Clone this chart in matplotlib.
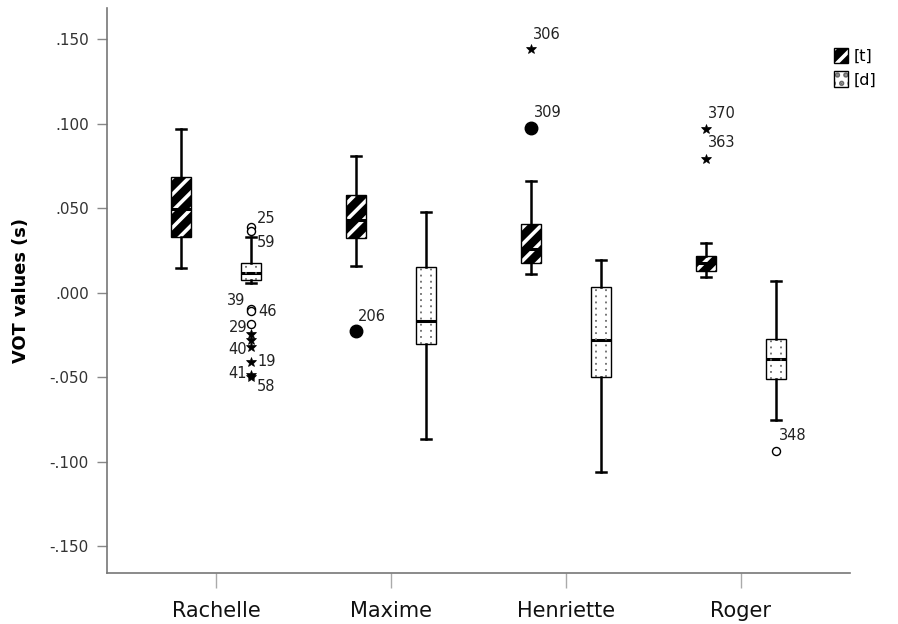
import matplotlib

matplotlib.use("Agg")
import matplotlib.pyplot as plt
import numpy as np
from matplotlib.patches import Patch, PathPatch
from matplotlib.ticker import FuncFormatter
from matplotlib.legend_handler import HandlerTuple

# --- data ---
speakers = ["Rachelle", "Maxime", "Henriette", "Roger"]

# [t] boxes
t_whislo = [0.0148, 0.0160, 0.0112, 0.0095]
t_q1 = [0.0331, 0.0326, 0.0178, 0.0130]
t_med = [0.0497, 0.0432, 0.0260, 0.0180]
t_q3 = [0.0687, 0.0580, 0.0408, 0.0219]
t_whishi = [0.0970, 0.0810, 0.0663, 0.0296]

# [d] boxes
d_whislo = [0.0060, -0.0865, -0.1060, -0.0750]
d_q1 = [0.0077, -0.0300, -0.0497, -0.0510]
d_med = [0.0118, -0.0166, -0.0278, -0.0390]
d_q3 = [0.0178, 0.0154, 0.0036, -0.0272]
d_whishi = [0.0330, 0.0480, 0.0195, 0.0071]

# outliers: speaker index, group, value, kind, case label
out_speaker = [1, 2, 2, 3, 3,
               0, 0, 0, 0, 0, 0, 0, 0, 0, 0, 0, 3]
out_group = ["t", "t", "t", "t", "t",
             "d", "d", "d", "d", "d", "d", "d", "d", "d", "d", "d", "d"]
out_value = [-0.0225, 0.1444, 0.0976, 0.0970, 0.0793,
             0.0391, 0.0367, -0.0095, -0.0107, -0.0183, -0.0243, -0.0278,
             -0.0320, -0.0408, -0.0485, -0.0497, -0.0935]
out_kind = ["filled", "star", "filled", "star", "star",
            "open", "open", "open", "open", "open", "star", "star",
            "star", "star", "star", "star", "open"]
out_label = ["206", "306", "309", "370", "363",
             "25", "59", "39", "46", "29", "", "",
             "40", "19", "41", "58", "348"]

# label placement (pixels right / up from the point, alignment)
label_offsets = [(2, 14, "left"), (2, 14, "left"), (3, 15, "left"), (2, 16, "left"), (2, 16, "left"),
                 (6, 8, "left"), (6, -12, "left"), (-6, 9, "right"), (7, 0, "left"), (-4, -4, "right"),
                 (0, 0, "left"), (0, 0, "left"),
                 (-4, -2, "right"), (6, 0, "left"), (-4, 1, "right"), (6, -10, "left"), (3, 15, "left")]

plt.rcParams["hatch.linewidth"] = 2.6

fig = plt.figure(figsize=(8.98, 6.24), dpi=100)
ax = fig.add_axes([107 / 898, 51 / 624, 743 / 898, 565 / 624])

centers = np.arange(len(speakers))
offset = 0.2
box_w = 0.11
pos_t = centers - offset
pos_d = centers + offset


def make_stats(lo, q1, med, q3, hi):
    return [dict(whislo=a, q1=b, med=c, q3=d, whishi=e, fliers=[])
            for a, b, c, d, e in zip(lo, q1, med, q3, hi)]


common = dict(widths=box_w, patch_artist=True, showfliers=False,
              whiskerprops=dict(color="black", linewidth=1.8),
              capprops=dict(color="black", linewidth=1.8),
              medianprops=dict(color="black", linewidth=2.2))

bt = ax.bxp(make_stats(t_whislo, t_q1, t_med, t_q3, t_whishi), positions=pos_t, **common)
bd = ax.bxp(make_stats(d_whislo, d_q1, d_med, d_q3, d_whishi), positions=pos_d, **common)

# [t]: black with white diagonal stripes
for box in bt["boxes"]:
    box.set(facecolor="black", edgecolor="white", hatch="//", linewidth=0)
    ax.add_patch(PathPatch(box.get_path(), facecolor="none", edgecolor="black",
                           linewidth=1.0, zorder=box.get_zorder() + 0.1))

# [d]: white with two dotted columns
for i, box in enumerate(bd["boxes"]):
    box.set(facecolor="white", edgecolor="black", linewidth=1.0)
    xs = [pos_d[i] - box_w / 4, pos_d[i] + box_w / 4]
    ax.vlines(xs, d_q1[i], d_q3[i], colors="#6a6a6a", linestyles=(0, (1, 2.4)),
              linewidth=1.3, zorder=box.get_zorder() + 0.1)

marker_style = {
    "open": dict(marker="o", markersize=5.8, markerfacecolor="white", markeredgecolor="black", markeredgewidth=1),
    "filled": dict(marker="o", markersize=9, markerfacecolor="black", markeredgecolor="black"),
    "star": dict(marker="*", markersize=7, markerfacecolor="black", markeredgecolor="black", markeredgewidth=0.5),
}

for s, g, v, k, lab, (dx, dy, ha) in zip(out_speaker, out_group, out_value, out_kind,
                                          out_label, label_offsets):
    x = pos_t[s] if g == "t" else pos_d[s]
    ax.plot([x], [v], linestyle="none", zorder=5, **marker_style[k])
    if lab:
        ax.annotate(lab, (x, v), xytext=(dx * 0.72, dy * 0.72), textcoords="offset points",
                    ha=ha, va="center", fontsize=10.5, color="#222222")

ax.set_xlim(-0.623, 3.623)
ax.set_ylim(-0.1657, 0.1686)

yticks = [-0.15, -0.10, -0.05, 0.0, 0.05, 0.10, 0.15]
ax.set_yticks(yticks)


def fmt(v, _):
    if abs(v) < 1e-9:
        return ".000"
    s = f"{v:.3f}"
    return s.replace("0.", ".", 1)


ax.yaxis.set_major_formatter(FuncFormatter(fmt))
ax.set_xticks(centers)
ax.set_xticklabels(speakers, fontsize=15, color="#111111")
ax.tick_params(axis="y", length=7, width=1, color="#888888", labelsize=11,
               labelcolor="#333333", pad=6)
ax.tick_params(axis="x", length=11, width=1, color="#aaaaaa", pad=9)

for side in ["top", "right"]:
    ax.spines[side].set_visible(False)
for side in ["left", "bottom"]:
    ax.spines[side].set_color("#777777")
    ax.spines[side].set_linewidth(1.2)

ax.set_ylabel("VOT values (s)", fontsize=12.8, fontweight="bold", labelpad=14)

# legend
h_t = (Patch(facecolor="black", edgecolor="white", hatch="//", linewidth=0),
       Patch(facecolor="none", edgecolor="black", linewidth=1))
h_d = (Patch(facecolor="white", edgecolor="#6a6a6a", hatch="..", linewidth=0),
       Patch(facecolor="none", edgecolor="black", linewidth=1))
fig.legend([h_t, h_d], ["[t]", "[d]"], handler_map={tuple: HandlerTuple(ndivide=1)},
           loc="upper left", bbox_to_anchor=(834 / 898, 1 - 48 / 624), frameon=False,
           handlelength=0.9, handleheight=1.1, handletextpad=0.35, labelspacing=0.45,
           borderpad=0, borderaxespad=0, fontsize=11.5)

fig.savefig("out.png", dpi=100)
